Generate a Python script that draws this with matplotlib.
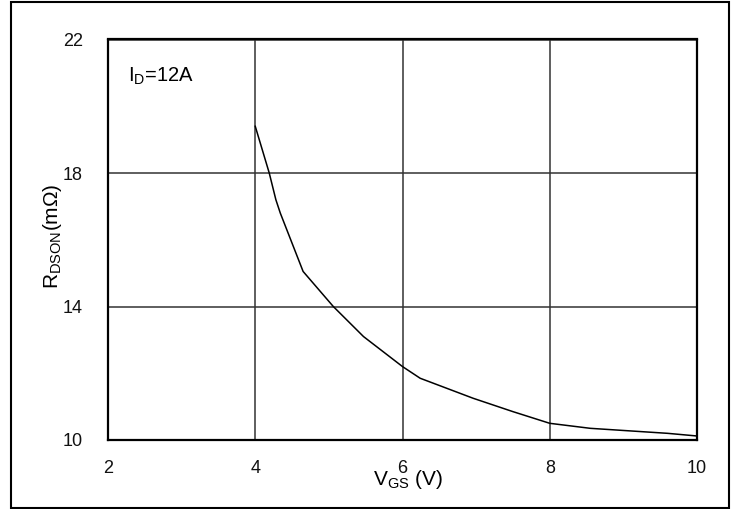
import matplotlib
matplotlib.use("Agg")
import matplotlib.pyplot as plt
from matplotlib.patches import Rectangle

plt.rcParams['font.family'] = ['Liberation Sans', 'DejaVu Sans']
plt.rcParams['mathtext.fontset'] = 'custom'
plt.rcParams['mathtext.rm'] = 'Liberation Sans'
plt.rcParams['mathtext.it'] = 'Liberation Sans'

# data
vgs = [4.0, 4.19, 4.28, 4.34, 4.65, 5.06, 5.47, 6.0, 6.24, 6.96, 7.5, 8.0, 8.55, 9.6, 10.0]
rdson = [19.4, 18.0, 17.2, 16.8, 15.05, 14.0, 13.1, 12.2, 11.85, 11.25, 10.85, 10.5, 10.35, 10.2, 10.12]
xticks = [2, 4, 6, 8, 10]
yticks = [10, 14, 18, 22]

W, H = 735, 509
fig = plt.figure(figsize=(W / 100, H / 100), dpi=100)
ax = fig.add_axes([108 / W, 1 - 440 / H, (697 - 108) / W, (440 - 39.5) / H])

ax.plot(vgs, rdson, color='black', lw=1.1)
ax.set_xlim(2, 10)
ax.set_ylim(10, 22)
ax.set_xticks(xticks)
ax.set_yticks(yticks)
ax.grid(True, color='#333333', lw=1.1)
for s in ax.spines.values():
    s.set_linewidth(1.6)
    s.set_color('black')
ax.tick_params(axis='both', length=0, labelsize=13, colors='#111111')
ax.tick_params(axis='x', pad=14.5)
ax.tick_params(axis='y', pad=18)

ax.text((128 - 108) / 589, 1 - (82 - 39.5) / 400.5, r'$\mathregular{I_D}$=12A', transform=ax.transAxes,
        fontsize=14.5, ha='left', va='baseline')

fig.text(408 / W, 1 - 485 / H, r'$\mathregular{V_{GS}}$ (V)', fontsize=15, ha='center', va='baseline')
fig.text(53 / W, 1 - 236 / H, r'$\mathregular{R_{DSON}(m\Omega)}$', fontsize=15, rotation=90,
         ha='center', va='center')

fig.patches.append(Rectangle((11 / W, 1 - 508 / H), (729 - 11) / W, (508 - 2) / H,
                             transform=fig.transFigure, fill=False, lw=1.5, ec='black'))

fig.savefig('out.png', dpi=100)
